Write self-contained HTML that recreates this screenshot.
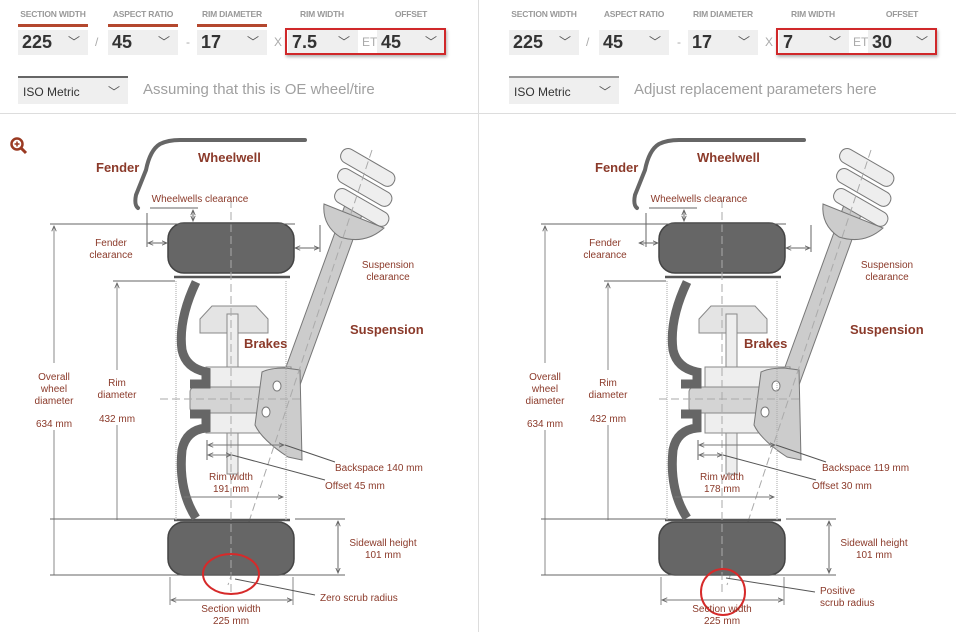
<!DOCTYPE html>
<html><head><meta charset="utf-8"><style>
body{margin:0;width:956px;height:632px;background:#fff;font-family:"Liberation Sans",sans-serif;overflow:hidden;position:relative}
.lbl{position:absolute;top:9px;font-size:8.5px;font-weight:bold;color:#999;text-align:center;letter-spacing:-0.2px}
.bar{position:absolute;top:24px;height:3px;background:#b4472e}
.sel{position:absolute;top:30px;height:25px;background:#efefef;font-size:18px;font-weight:bold;color:#333;line-height:25px;padding-left:4px;box-sizing:border-box}
.sel i{position:absolute;right:8px;top:0;font-style:normal;font-weight:normal;font-size:12px;color:#555}
.sep{position:absolute;top:30px;line-height:25px;font-size:12px;color:#aaa}
.red{position:absolute;top:28px;height:27px;border:2px solid #d0282a;box-sizing:border-box;box-shadow:1px 2px 3px rgba(0,0,0,.3)}
.iso{position:absolute;top:76px;height:28px;background:#efefef;border-top:2px solid #666;font-size:12px;color:#333;line-height:28px;padding-left:5px;box-sizing:border-box;width:110px}
.iso i{position:absolute;right:8px;font-style:normal;color:#555}
.note{position:absolute;top:81px;font-size:15px;color:#a0a0a0}
</style></head><body>
<div style="position:absolute;left:0;top:113px;width:956px;height:1px;background:#ddd"></div>
<div style="position:absolute;left:478px;top:0;width:1px;height:632px;background:#ddd"></div>

<div class="lbl" style="left:18px;width:70px">SECTION WIDTH</div>
<div class="lbl" style="left:108px;width:70px">ASPECT RATIO</div>
<div class="lbl" style="left:197px;width:70px">RIM DIAMETER</div>
<div class="lbl" style="left:287px;width:70px">RIM WIDTH</div>
<div class="lbl" style="left:376px;width:70px">OFFSET</div>
<div class="bar" style="left:18px;width:70px"></div><div class="bar" style="left:108px;width:70px"></div><div class="bar" style="left:197px;width:70px"></div>
<div class="sel" style="left:18px;width:70px">225<i>﹀</i></div><div class="sep" style="left:95px">/</div>
<div class="sel" style="left:108px;width:70px">45<i>﹀</i></div><div class="sep" style="left:186px">-</div>
<div class="sel" style="left:197px;width:70px">17<i>﹀</i></div><div class="sep" style="left:274px">X</div>
<div class="sel" style="left:288px;width:70px">7.5<i>﹀</i></div><div class="sep" style="left:362px">ET</div>
<div class="sel" style="left:377px;width:68px">45<i>﹀</i></div>
<div class="red" style="left:285px;width:161px"></div>
<div class="iso" style="left:18px">ISO Metric<i>﹀</i></div>
<div class="note" style="left:143px">Assuming that this is OE wheel/tire</div>

<div class="lbl" style="left:509px;width:70px">SECTION WIDTH</div>
<div class="lbl" style="left:599px;width:70px">ASPECT RATIO</div>
<div class="lbl" style="left:688px;width:70px">RIM DIAMETER</div>
<div class="lbl" style="left:778px;width:70px">RIM WIDTH</div>
<div class="lbl" style="left:867px;width:70px">OFFSET</div>
<div class="sel" style="left:509px;width:70px">225<i>﹀</i></div><div class="sep" style="left:586px">/</div>
<div class="sel" style="left:599px;width:70px">45<i>﹀</i></div><div class="sep" style="left:677px">-</div>
<div class="sel" style="left:688px;width:70px">17<i>﹀</i></div><div class="sep" style="left:765px">X</div>
<div class="sel" style="left:779px;width:70px">7<i>﹀</i></div><div class="sep" style="left:853px">ET</div>
<div class="sel" style="left:868px;width:68px">30<i>﹀</i></div>
<div class="red" style="left:776px;width:161px"></div>
<div class="iso" style="left:509px;border-top-color:#999">ISO Metric<i>﹀</i></div>
<div class="note" style="left:634px">Adjust replacement parameters here</div>

<svg width="956" height="632" style="position:absolute;left:0;top:0" font-family="Liberation Sans, sans-serif">
<defs>
<marker id="a" viewBox="0 0 8 8" refX="7" refY="4" markerWidth="6" markerHeight="6" orient="auto-start-reverse"><path d="M0,1 L7,4 L0,7" fill="none" stroke="#666" stroke-width="1.2"/></marker>
<g id="body">
 <path d="M138,208 Q134,205 136,195 L146,170 Q150,150 160,144 Q168,140 180,140 L305,140" fill="none" stroke="#666" stroke-width="4" stroke-linecap="round"/>
 <line x1="150" y1="208" x2="198" y2="208" stroke="#666"/>
 <line x1="147" y1="213" x2="147" y2="247" stroke="#666"/>
 <path d="M282,378 L345,205 L363,212 L300,385 Z" fill="#ccc" stroke="#777"/>
 <g fill="#eee" stroke="#777">
  <rect x="338" y="160" width="60" height="15" rx="7" transform="rotate(30 368 167)"/>
  <rect x="335" y="180" width="60" height="15" rx="7" transform="rotate(30 365 187)"/>
  <rect x="332" y="200" width="60" height="15" rx="7" transform="rotate(30 362 207)"/>
 </g>
 <path d="M324,204 L384,228 Q365,245 340,237 Q322,225 324,204 Z" fill="#ccc" stroke="#777"/>
 <path d="M200,319 L212,306 L256,306 L268,319 L268,333 L200,333 Z" fill="#e4e4e4" stroke="#888"/>
 <rect x="227" y="314" width="11" height="160" fill="#eee" stroke="#888"/>
 <rect x="206" y="367" width="85" height="66" fill="#eee" stroke="#888"/>
 <rect x="190" y="387" width="98" height="26" rx="5" fill="#d4d4d4" stroke="#888"/>
 <path d="M262,372 Q270,368 285,368 L300,370 L302,460 L288,457 Q262,440 255,425 Z" fill="#ccc" stroke="#777"/>
 <ellipse cx="277" cy="386" rx="4" ry="5" fill="#fff" stroke="#777"/>
 <ellipse cx="266" cy="412" rx="4" ry="5" fill="#fff" stroke="#777"/>
 <line x1="372" y1="150" x2="228" y2="585" stroke="#aaa" stroke-dasharray="8,4"/>
 <line x1="160" y1="399" x2="300" y2="399" stroke="#aaa" stroke-dasharray="8,4"/>
</g>
<g id="wheel">
 <rect x="168" y="223" width="126" height="50" rx="16" fill="#666" stroke="#444" stroke-width="1.5"/>
 <rect x="168" y="522" width="126" height="53" rx="16" fill="#666" stroke="#444" stroke-width="1.5"/>
 <path d="M174,277 L290,277 M174,520 L290,520" stroke="#555" stroke-width="2.5"/>
 <path d="M196,282 Q178,320 182,350 Q186,368 206,372 L206,384 L190,384 M206,414 L190,414 L206,414 L206,428 Q186,430 182,450 Q178,490 196,518" fill="none" stroke="#666" stroke-width="9"/>
 <line x1="176" y1="281" x2="176" y2="520" stroke="#aaa" stroke-dasharray="1,1"/>
 <line x1="286" y1="281" x2="286" y2="520" stroke="#aaa" stroke-dasharray="1,1"/>
 <line x1="231" y1="200" x2="231" y2="592" stroke="#aaa" stroke-dasharray="8,4"/>
 <line x1="193" y1="210" x2="193" y2="221" stroke="#666" marker-start="url(#a)" marker-end="url(#a)"/>
 <line x1="148" y1="243" x2="167" y2="243" stroke="#666" marker-start="url(#a)" marker-end="url(#a)"/>
 <line x1="295" y1="248" x2="319" y2="248" stroke="#666" marker-start="url(#a)" marker-end="url(#a)"/>
 <line x1="320" y1="225" x2="320" y2="252" stroke="#666"/>
 <line x1="50" y1="224" x2="295" y2="224" stroke="#666"/>
 <line x1="54" y1="226" x2="54" y2="363" stroke="#888" marker-start="url(#a)"/>
 <line x1="113" y1="281" x2="175" y2="281" stroke="#666"/>
 <line x1="117" y1="283" x2="117" y2="370" stroke="#888" marker-start="url(#a)"/>
 <line x1="54" y1="430" x2="54" y2="575" stroke="#888"/>
 <line x1="117" y1="425" x2="117" y2="520" stroke="#888"/>
 <line x1="50" y1="519" x2="175" y2="519" stroke="#666"/>
 <line x1="50" y1="575" x2="345" y2="575" stroke="#666"/>
 <line x1="295" y1="519" x2="345" y2="519" stroke="#666"/>
 <line x1="338" y1="521" x2="338" y2="573" stroke="#666" marker-start="url(#a)" marker-end="url(#a)"/>
 <line x1="207" y1="440" x2="207" y2="460" stroke="#666"/>
 <line x1="208" y1="445" x2="284" y2="445" stroke="#777" marker-start="url(#a)" marker-end="url(#a)"/>
 <line x1="208" y1="455" x2="231" y2="455" stroke="#777" marker-start="url(#a)" marker-end="url(#a)"/>
 <line x1="182" y1="497" x2="283" y2="497" stroke="#777" marker-start="url(#a)" marker-end="url(#a)"/>
 <line x1="170" y1="577" x2="170" y2="605" stroke="#888"/><line x1="293" y1="577" x2="293" y2="605" stroke="#888"/>
 <line x1="171" y1="600" x2="292" y2="600" stroke="#777" marker-start="url(#a)" marker-end="url(#a)"/>
</g>
</defs>
<use href="#body"/>
<use href="#wheel"/>
<use href="#body" transform="translate(499,0)"/>
<use href="#wheel" transform="translate(491,0)"/>
<circle cx="17" cy="144" r="5.5" fill="none" stroke="#9a3a22" stroke-width="2.5"/><line x1="21" y1="148" x2="26" y2="153" stroke="#9a3a22" stroke-width="3"/>
<path d="M14.5,144 H19.5 M17,141.5 V146.5" stroke="#9a3a22" stroke-width="1.5"/>
<g stroke="#555" fill="none">
<path d="M285,445 L335,462 M232,455 L325,480 M235,579 L315,595"/>
<path d="M776,445 L826,462 M723,455 L816,480 M726,578 L815,592"/>
</g>
<ellipse cx="231" cy="574" rx="28" ry="20" fill="none" stroke="#d62a2a" stroke-width="2"/>
<ellipse cx="723" cy="592" rx="22" ry="23" fill="none" stroke="#d62a2a" stroke-width="2"/>
<g fill="#8b3a2a" font-size="13" font-weight="bold">
<text x="96" y="172">Fender</text><text x="198" y="162">Wheelwell</text><text x="350" y="334">Suspension</text><text x="244" y="348">Brakes</text>
<text x="595" y="172">Fender</text><text x="697" y="162">Wheelwell</text><text x="850" y="334">Suspension</text><text x="744" y="348">Brakes</text>
</g>
<g fill="#8b3a2a" font-size="10" text-anchor="middle">
<text x="200" y="202">Wheelwells clearance</text>
<text x="111" y="246">Fender</text><text x="111" y="258">clearance</text>
<text x="388" y="268">Suspension</text><text x="388" y="280">clearance</text>
<text x="54" y="380">Overall</text><text x="54" y="392">wheel</text><text x="54" y="404">diameter</text><text x="54" y="427">634 mm</text>
<text x="117" y="386">Rim</text><text x="117" y="398">diameter</text><text x="117" y="422">432 mm</text>
<text x="231" y="480">Rim width</text><text x="231" y="492">191 mm</text>
<text x="383" y="546">Sidewall height</text><text x="383" y="558">101 mm</text>
<text x="231" y="612">Section width</text><text x="231" y="624">225 mm</text>
<text x="699" y="202">Wheelwells clearance</text>
<text x="605" y="246">Fender</text><text x="605" y="258">clearance</text>
<text x="887" y="268">Suspension</text><text x="887" y="280">clearance</text>
<text x="545" y="380">Overall</text><text x="545" y="392">wheel</text><text x="545" y="404">diameter</text><text x="545" y="427">634 mm</text>
<text x="608" y="386">Rim</text><text x="608" y="398">diameter</text><text x="608" y="422">432 mm</text>
<text x="722" y="480">Rim width</text><text x="722" y="492">178 mm</text>
<text x="874" y="546">Sidewall height</text><text x="874" y="558">101 mm</text>
<text x="722" y="612">Section width</text><text x="722" y="624">225 mm</text>
</g>
<g fill="#8b3a2a" font-size="10">
<text x="335" y="471">Backspace 140 mm</text><text x="325" y="489">Offset 45 mm</text><text x="320" y="601">Zero scrub radius</text>
<text x="822" y="471">Backspace 119 mm</text><text x="812" y="489">Offset 30 mm</text><text x="820" y="594">Positive</text><text x="820" y="606">scrub radius</text>
</g>
</svg>
</body></html>
